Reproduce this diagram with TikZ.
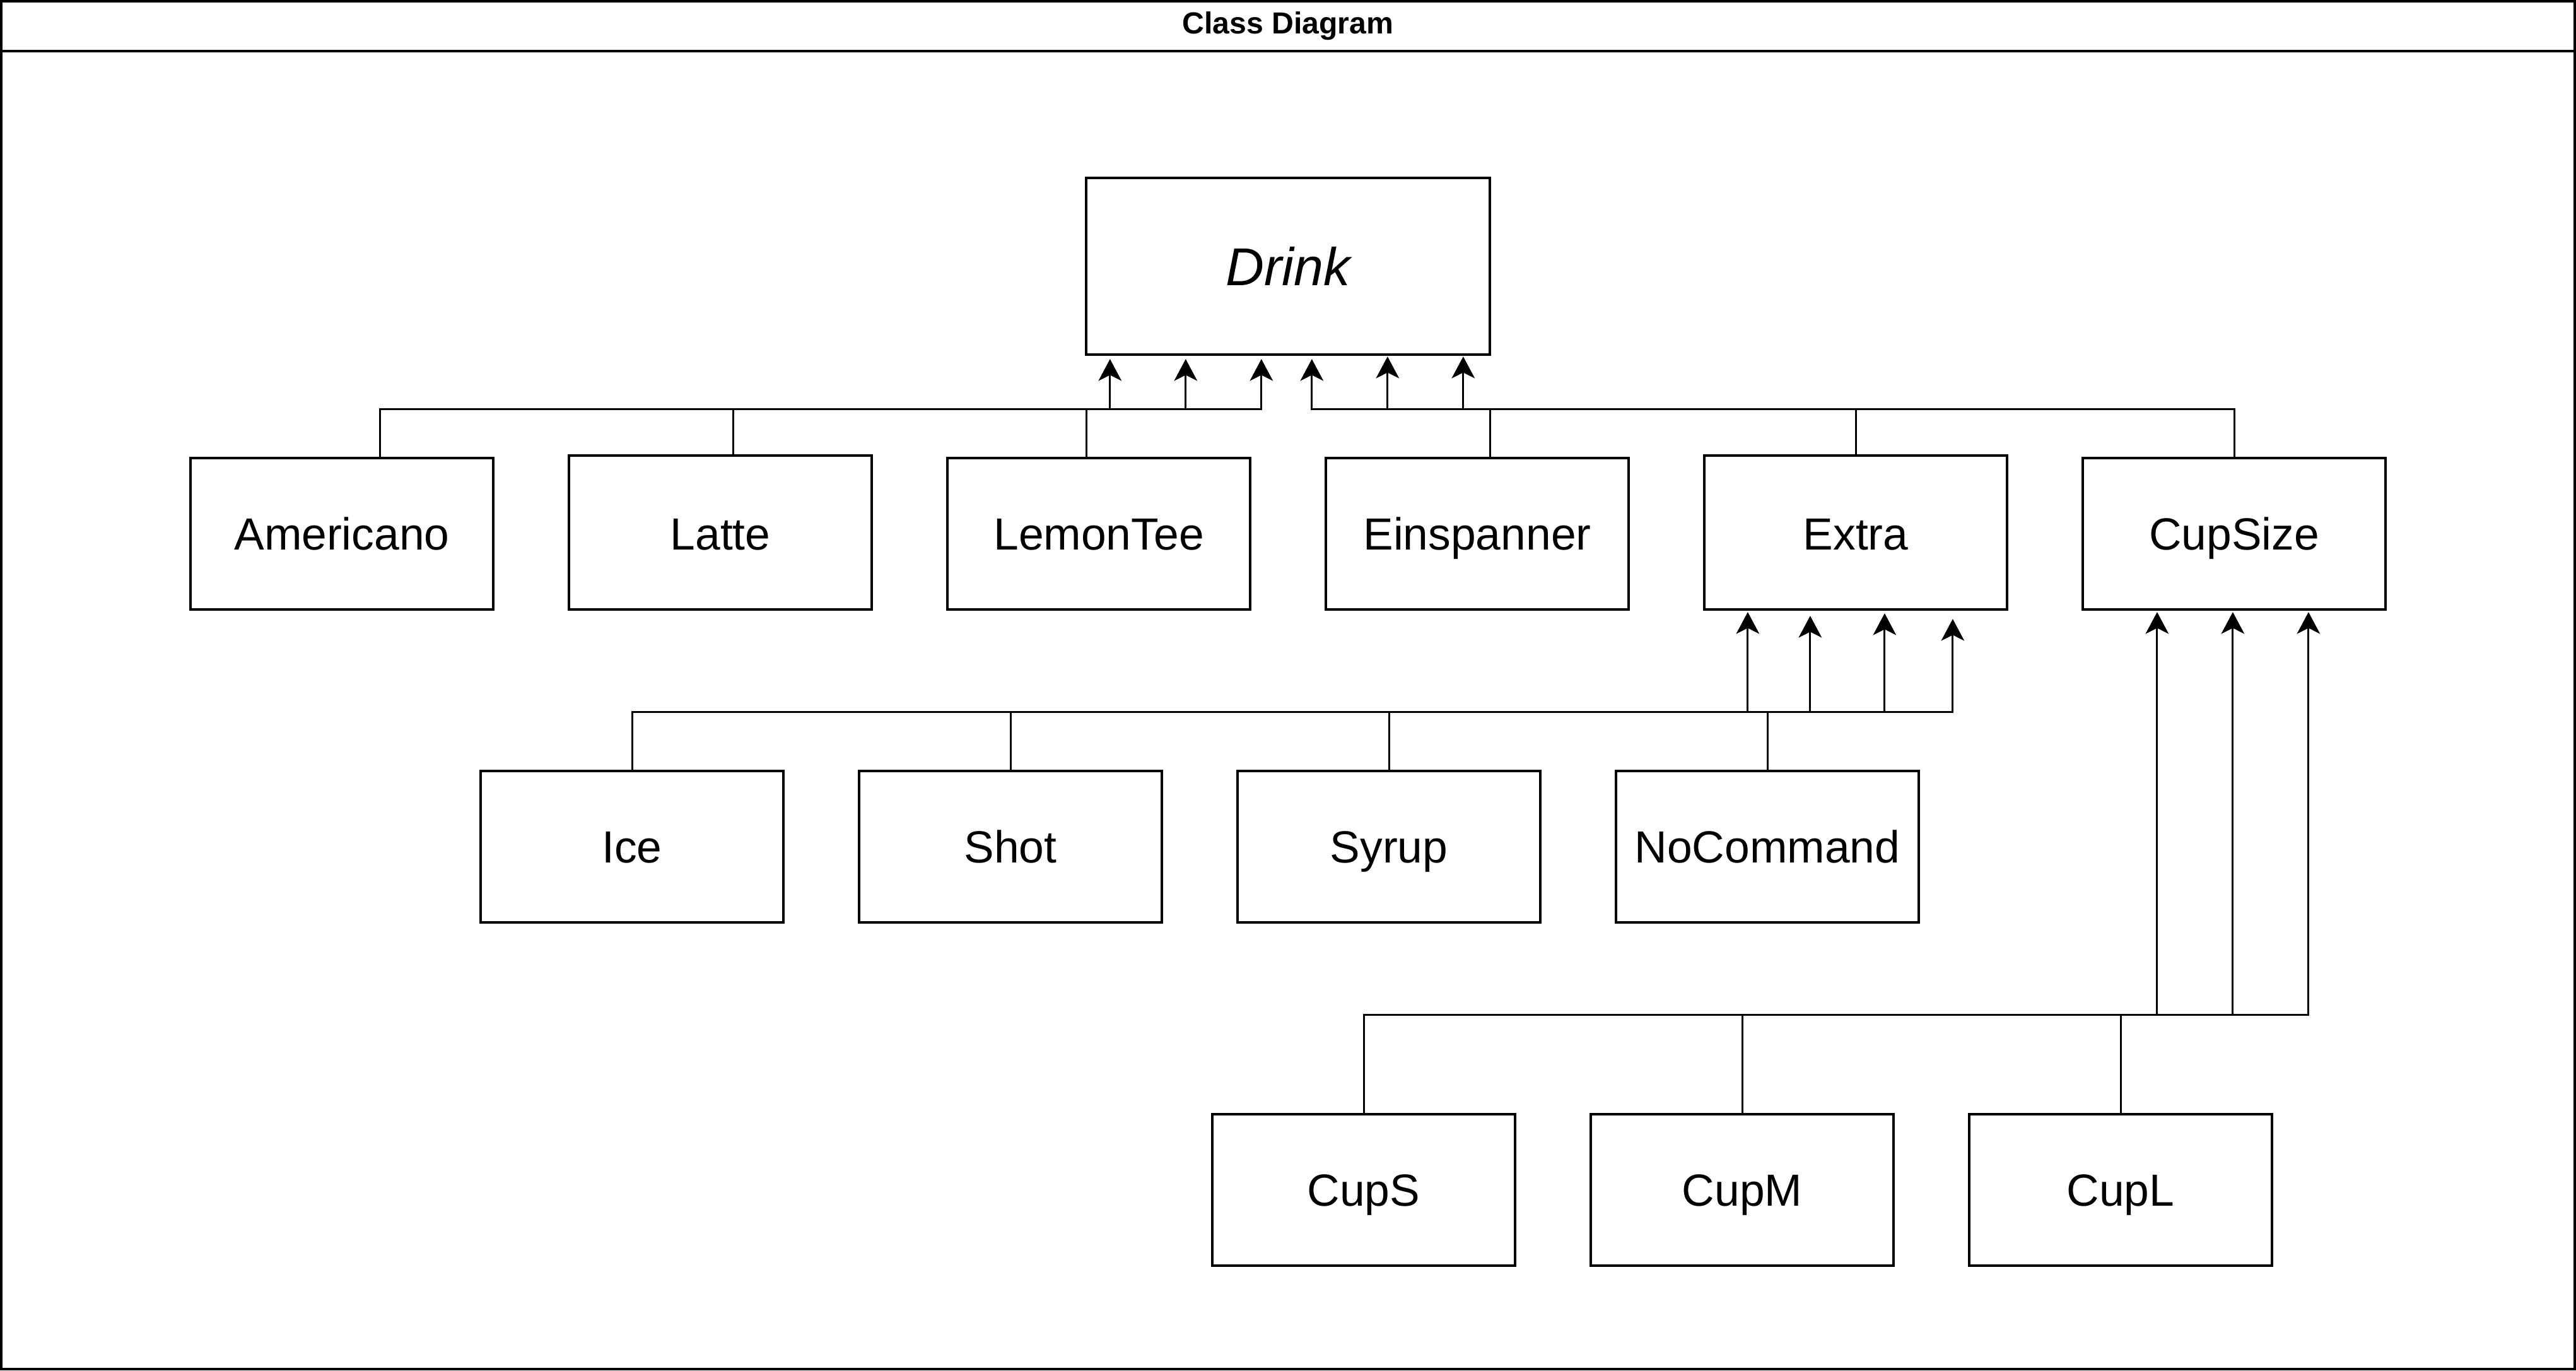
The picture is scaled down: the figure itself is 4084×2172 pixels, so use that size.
\documentclass[tikz,border=0pt]{standalone}
\usepackage{fontspec}
\setmainfont{Liberation Sans}
\usetikzlibrary{arrows.meta,calc}
\begin{document}
\begin{tikzpicture}[x=0.01cm,y=-0.01cm,
  cls/.style={draw,line width=1.14pt,minimum width=4.8cm,minimum height=2.4cm,
    inner sep=0pt,font=\fontsize{20.3}{24}\selectfont,text height=14.5pt,text depth=0pt},
  tallcls/.style={cls,minimum height=2.44cm,text height=15.64pt},
  arr/.style={line width=0.85pt,-{Stealth[length=9.8pt,width=10.4pt,inset=2.6pt]}},
  framestyle/.style={line width=1.14pt}]
\useasboundingbox (0,0) rectangle (4084,2172);
% frame
\draw[framestyle] (2,2) rectangle (4082,2170);
\draw[framestyle] (2,81) -- (4082,81);
\node[font=\bfseries\fontsize{13.7}{16}\selectfont,inner sep=0pt] (title) at (2042,41) {Class Diagram};
% classes
\node[cls,minimum width=6.4cm,minimum height=2.8cm,font=\itshape\fontsize{24}{28}\selectfont,text height=17.2pt] (dri) at (2042,422) {Drink};
\node[cls] (ame) at (542,846) {Americano};
\node[tallcls] (lat) at (1142,844) {Latte};
\node[cls] (lem) at (1742,846) {LemonTee};
\node[cls] (ein) at (2342,846) {Einspanner};
\node[tallcls] (ext) at (2942,844) {Extra};
\node[cls] (cup) at (3542,846) {CupSize};
\node[cls] (ice) at (1002,1342) {Ice};
\node[cls] (sho) at (1602,1342) {Shot};
\node[cls] (syr) at (2202,1342) {Syrup};
\node[cls] (noc) at (2802,1342) {NoCommand};
\node[cls] (cps) at (2162,1886) {CupS};
\node[cls] (cpm) at (2762,1886) {CupM};
\node[cls] (cpl) at (3362,1886) {CupL};
% generalisations to Drink
\draw[arr] ($(ame.north)+(60,0)$) |- ($(dri.south west)+(280,84)$) -- ($(dri.south west)+(280,5)$);
\draw[arr] ($(lat.north)+(20,0)$) |- ($(dri.south west)+(160,84)$) -- ($(dri.south west)+(160,5)$);
\draw[arr] ($(lem.north)+(-20,0)$) |- ($(dri.south west)+(40,84)$) -- ($(dri.south west)+(40,5)$);
\draw[arr] ($(ein.north)+(20,0)$) |- ($(dri.south west)+(600,84)$) -- ($(dri.south west)+(600,1)$);
\draw[arr] (ext.north) |- ($(dri.south west)+(480,84)$) -- ($(dri.south west)+(480,1)$);
\draw[arr] (cup.north) |- ($(dri.south west)+(360,84)$) -- ($(dri.south west)+(360,5)$);
% generalisations to Extra
\draw[arr] (ice.north) |- ($(ext.south west)+(396,160)$) -- ($(ext.south west)+(396,13)$);
\draw[arr] (sho.north) |- ($(ext.south west)+(288,160)$) -- ($(ext.south west)+(288,4)$);
\draw[arr] (syr.north) |- ($(ext.south west)+(170,160)$) -- ($(ext.south west)+(170,8)$);
\draw[arr] (noc.north) |- ($(ext.south west)+(71,160)$) -- ($(ext.south west)+(71,2)$);
% generalisations to CupSize
\draw[arr] (cps.north) |- ($(cup.south west)+(360,640)$) -- ($(cup.south west)+(360,2)$);
\draw[arr] (cpm.north) |- ($(cup.south west)+(240,640)$) -- ($(cup.south west)+(240,2)$);
\draw[arr] (cpl.north) |- ($(cup.south west)+(120,640)$) -- ($(cup.south west)+(120,2)$);
\end{tikzpicture}
\end{document}
